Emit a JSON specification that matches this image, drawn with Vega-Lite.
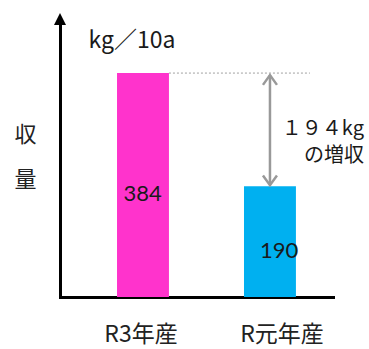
{
  "$schema": "https://vega.github.io/schema/vega-lite/v6.json",
  "width": 273,
  "height": 277,
  "autosize": "none",
  "padding": {"left": 60, "top": 20, "right": 36, "bottom": 52},
  "background": "#ffffff",
  "config": {"view": {"stroke": null}, "font": "Noto Sans CJK JP"},
  "datasets": {
    "harvest": [
      {"year": "R3年産", "yield": 384},
      {"year": "R元年産", "yield": 190}
    ],
    "gain": [
      {"from": "R3年産", "to": "R元年産", "high": 384, "low": 190, "gainText": "１９４kg\nの増収", "unit": "kg／10a"}
    ]
  },
  "layer": [
    {
      "layer": [
        {
          "data": {"name": "harvest"},
          "mark": {"type": "bar"},
          "encoding": {
            "x": {
              "field": "year", "type": "nominal",
              "scale": {"domain": ["R3年産", "R元年産"], "paddingInner": 0.591, "paddingOuter": 0.3705, "align": 0.606},
              "axis": {
                "title": null, "domainColor": "#000000", "domainWidth": 3, "domainCap": "square",
                "ticks": false, "labelAngle": 0, "labelFontSize": 23, "labelColor": "#222222",
                "labelPadding": 26, "labelFont": "Noto Sans CJK JP",
                "labelOffset": {"condition": {"test": "datum.value === 'R元年産'", "value": 12}, "value": -2}
              }
            },
            "y": {
              "field": "yield", "type": "quantitative",
              "scale": {"domain": [0, 475], "nice": false},
              "axis": {
                "title": ["収", "量"], "titleAngle": 0, "titleFontSize": 22, "titleFontWeight": "normal",
                "titleColor": "#222222", "titleLineHeight": 45, "titleX": -35, "titleY": 114,
                "titleBaseline": "middle", "titleAlign": "center", "titleFont": "Noto Sans CJK JP",
                "labels": false, "ticks": false, "grid": false,
                "domainColor": "#000000", "domainWidth": 3, "domainCap": "square"
              }
            },
            "color": {
              "field": "year", "type": "nominal",
              "scale": {"domain": ["R3年産", "R元年産"], "range": ["#FF33CC", "#00B0F0"]},
              "legend": null
            }
          }
        },
        {
          "data": {"name": "gain"},
          "mark": {"type": "rule", "stroke": "#a0a0a0", "strokeWidth": 1, "strokeDash": [2, 2], "x2Offset": 40},
          "encoding": {
            "x": {"field": "from", "type": "nominal", "bandPosition": 1},
            "x2": {"field": "to"},
            "y": {"field": "high", "type": "quantitative"}
          }
        },
        {
          "data": {"name": "gain"},
          "mark": {"type": "rule", "stroke": "#999999", "strokeWidth": 2.5, "yOffset": 2, "y2Offset": -1},
          "encoding": {
            "x": {"field": "to", "type": "nominal"},
            "y": {"field": "high", "type": "quantitative"},
            "y2": {"field": "low"}
          }
        },
        {
          "data": {"name": "gain"},
          "mark": {"type": "point", "shape": "M-1,1.4L0,0L1,1.4", "filled": false, "stroke": "#999999", "strokeWidth": 2.5, "size": 196, "opacity": 1, "yOffset": 2},
          "encoding": {
            "x": {"field": "to", "type": "nominal"},
            "y": {"field": "high", "type": "quantitative"}
          }
        },
        {
          "data": {"name": "gain"},
          "mark": {"type": "point", "shape": "M-1,-1.4L0,0L1,-1.4", "filled": false, "stroke": "#999999", "strokeWidth": 2.5, "size": 196, "opacity": 1, "yOffset": -1},
          "encoding": {
            "x": {"field": "to", "type": "nominal"},
            "y": {"field": "low", "type": "quantitative"}
          }
        },
        {
          "data": {"name": "gain"},
          "mark": {"type": "text", "align": "right", "baseline": "middle", "fontSize": 20, "font": "Noto Sans CJK JP", "color": "#1a1a1a", "lineBreak": "\n", "lineHeight": 27, "dx": 94, "dy": 56},
          "encoding": {
            "x": {"field": "to", "type": "nominal"},
            "y": {"field": "high", "type": "quantitative"},
            "text": {"field": "gainText"}
          }
        },
        {
          "data": {"name": "gain"},
          "mark": {"type": "text", "align": "center", "baseline": "middle", "fontSize": 23, "font": "Noto Sans CJK JP", "color": "#1a1a1a", "dx": -11, "dy": -32},
          "encoding": {
            "x": {"field": "from", "type": "nominal"},
            "y": {"field": "high", "type": "quantitative"},
            "text": {"field": "unit"}
          }
        }
      ]
    },
    {
      "data": {"name": "harvest"},
      "mark": {"type": "text", "fontSize": 22, "font": "Lato", "color": "#1a1a1a", "baseline": "middle", "dy": 9},
      "encoding": {
        "x": {
          "field": "year", "type": "nominal",
          "scale": {"domain": ["R3年産", "R元年産"], "paddingInner": 0.591, "paddingOuter": 0.3705, "align": 0.606},
          "axis": null
        },
        "y": {"field": "yield", "type": "quantitative", "scale": {"domain": [0, 950], "nice": false}, "axis": null},
        "text": {"field": "yield"}
      }
    },
    {
      "data": {"values": [{"top": 475}]},
      "mark": {"type": "point", "shape": "M0,-0.7L0.6,0.5L-0.6,0.5Z", "filled": true, "color": "#000000", "size": 400, "opacity": 1},
      "encoding": {
        "x": {"datum": 0, "type": "quantitative", "scale": {"domain": [0, 1]}, "axis": null},
        "y": {"field": "top", "type": "quantitative", "scale": {"domain": [0, 475], "nice": false}, "axis": null}
      }
    }
  ],
  "resolve": {"scale": {"x": "independent", "y": "independent"}}
}
